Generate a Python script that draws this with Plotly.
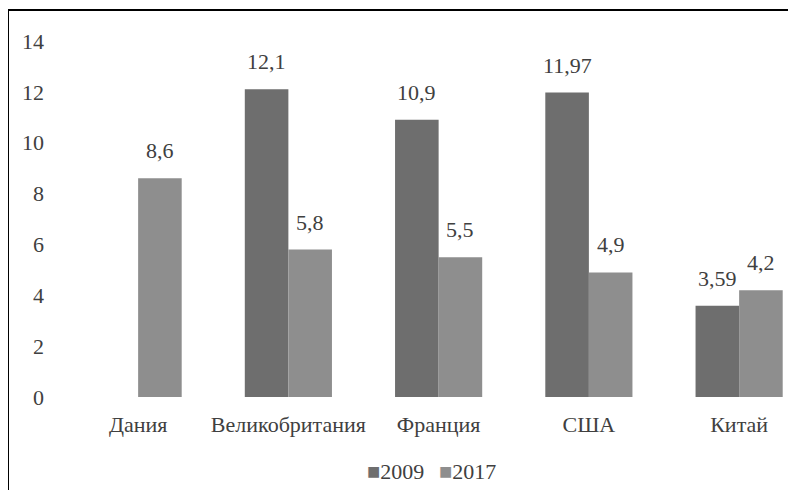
import plotly.graph_objects as go

categories = ["Дания", "Великобритания", "Франция", "США", "Китай"]
series_names = ["2009", "2017"]
values_2009 = [None, 12.1, 10.9, 11.97, 3.59]
values_2017 = [8.6, 5.8, 5.5, 4.9, 4.2]
labels_2009 = ["", "12,1", "10,9", "11,97", "3,59"]
labels_2017 = ["8,6", "5,8", "5,5", "4,9", "4,2"]
y_ticks = [0, 2, 4, 6, 8, 10, 12, 14]

FONT = "Liberation Serif, Tinos, Times New Roman, serif"
FS = 22
TXT = "#404040"
C2009 = "#6e6e6e"
C2017 = "#8e8e8e"

W, H = 796, 490
OFF = 8  # page body margin
# target plot area in screen pixels
SL, ST, SB, SR = 63, 41, 397, 796
ML = SL - OFF
MT = ST - OFF
MB = H - (SB - OFF)
MR = W - (SR - OFF)
plot_w = W - ML - MR
plot_h = H - MT - MB
cat_px = 150.25
x_max = -0.5 + plot_w / cat_px

fig = go.Figure()
fig.add_trace(go.Bar(name=series_names[0], x=categories, y=values_2009,
                     marker=dict(color=C2009, line=dict(width=0))))
fig.add_trace(go.Bar(name=series_names[1], x=categories, y=values_2017,
                     marker=dict(color=C2017, line=dict(width=0))))

bar_px = cat_px * (1 - 0.42) / 2
for vals, labs, sh in ((values_2009, labels_2009, -bar_px / 2), (values_2017, labels_2017, bar_px / 2)):
    for c, v, t in zip(categories, vals, labs):
        if v is None or not t:
            continue
        fig.add_annotation(x=c, y=v, text=t, showarrow=False, xref="x", yref="y",
                           xshift=sh, yshift=13, yanchor="bottom",
                           font=dict(family=FONT, size=FS, color=TXT))

def px_to_paper_x(px):
    return (px - SL) / plot_w

def px_to_paper_y(py):
    return (SB - py) / plot_h

# frame (cropped chart border)
fig.add_shape(type="line", xref="paper", yref="paper",
              x0=px_to_paper_x(8), x1=px_to_paper_x(810), y0=px_to_paper_y(10), y1=px_to_paper_y(10),
              line=dict(color="black", width=2))
fig.add_shape(type="line", xref="paper", yref="paper",
              x0=px_to_paper_x(8), x1=px_to_paper_x(8), y0=px_to_paper_y(10), y1=px_to_paper_y(505),
              line=dict(color="black", width=2))

# legend (Excel style: small square right next to the text)
for name, col, cx in ((series_names[0], C2009, 395), (series_names[1], C2017, 467)):
    fig.add_annotation(x=px_to_paper_x(cx), y=px_to_paper_y(471), xref="paper", yref="paper",
                       xanchor="center", yanchor="middle", showarrow=False,
                       text=f'<span style="color:{col};font-size:22px">■</span>{name}',
                       font=dict(family=FONT, size=FS, color=TXT))

fig.update_layout(
    width=W, height=H,
    margin=dict(l=ML, r=MR, t=MT, b=MB, pad=0),
    paper_bgcolor="white", plot_bgcolor="white",
    barmode="group", bargap=0.42, bargroupgap=0,
    font=dict(family=FONT, size=FS, color=TXT),
    showlegend=False,
    xaxis=dict(range=[-0.5, x_max], showgrid=False, showline=False, zeroline=False,
               ticks="", ticklabelstandoff=12, tickfont=dict(family=FONT, size=FS, color=TXT)),
    yaxis=dict(range=[0, 14], tickvals=y_ticks, showgrid=False, showline=False, zeroline=False,
               ticks="", ticklabelstandoff=18, tickfont=dict(family=FONT, size=FS, color=TXT)),
)

fig.write_html("out.html")
